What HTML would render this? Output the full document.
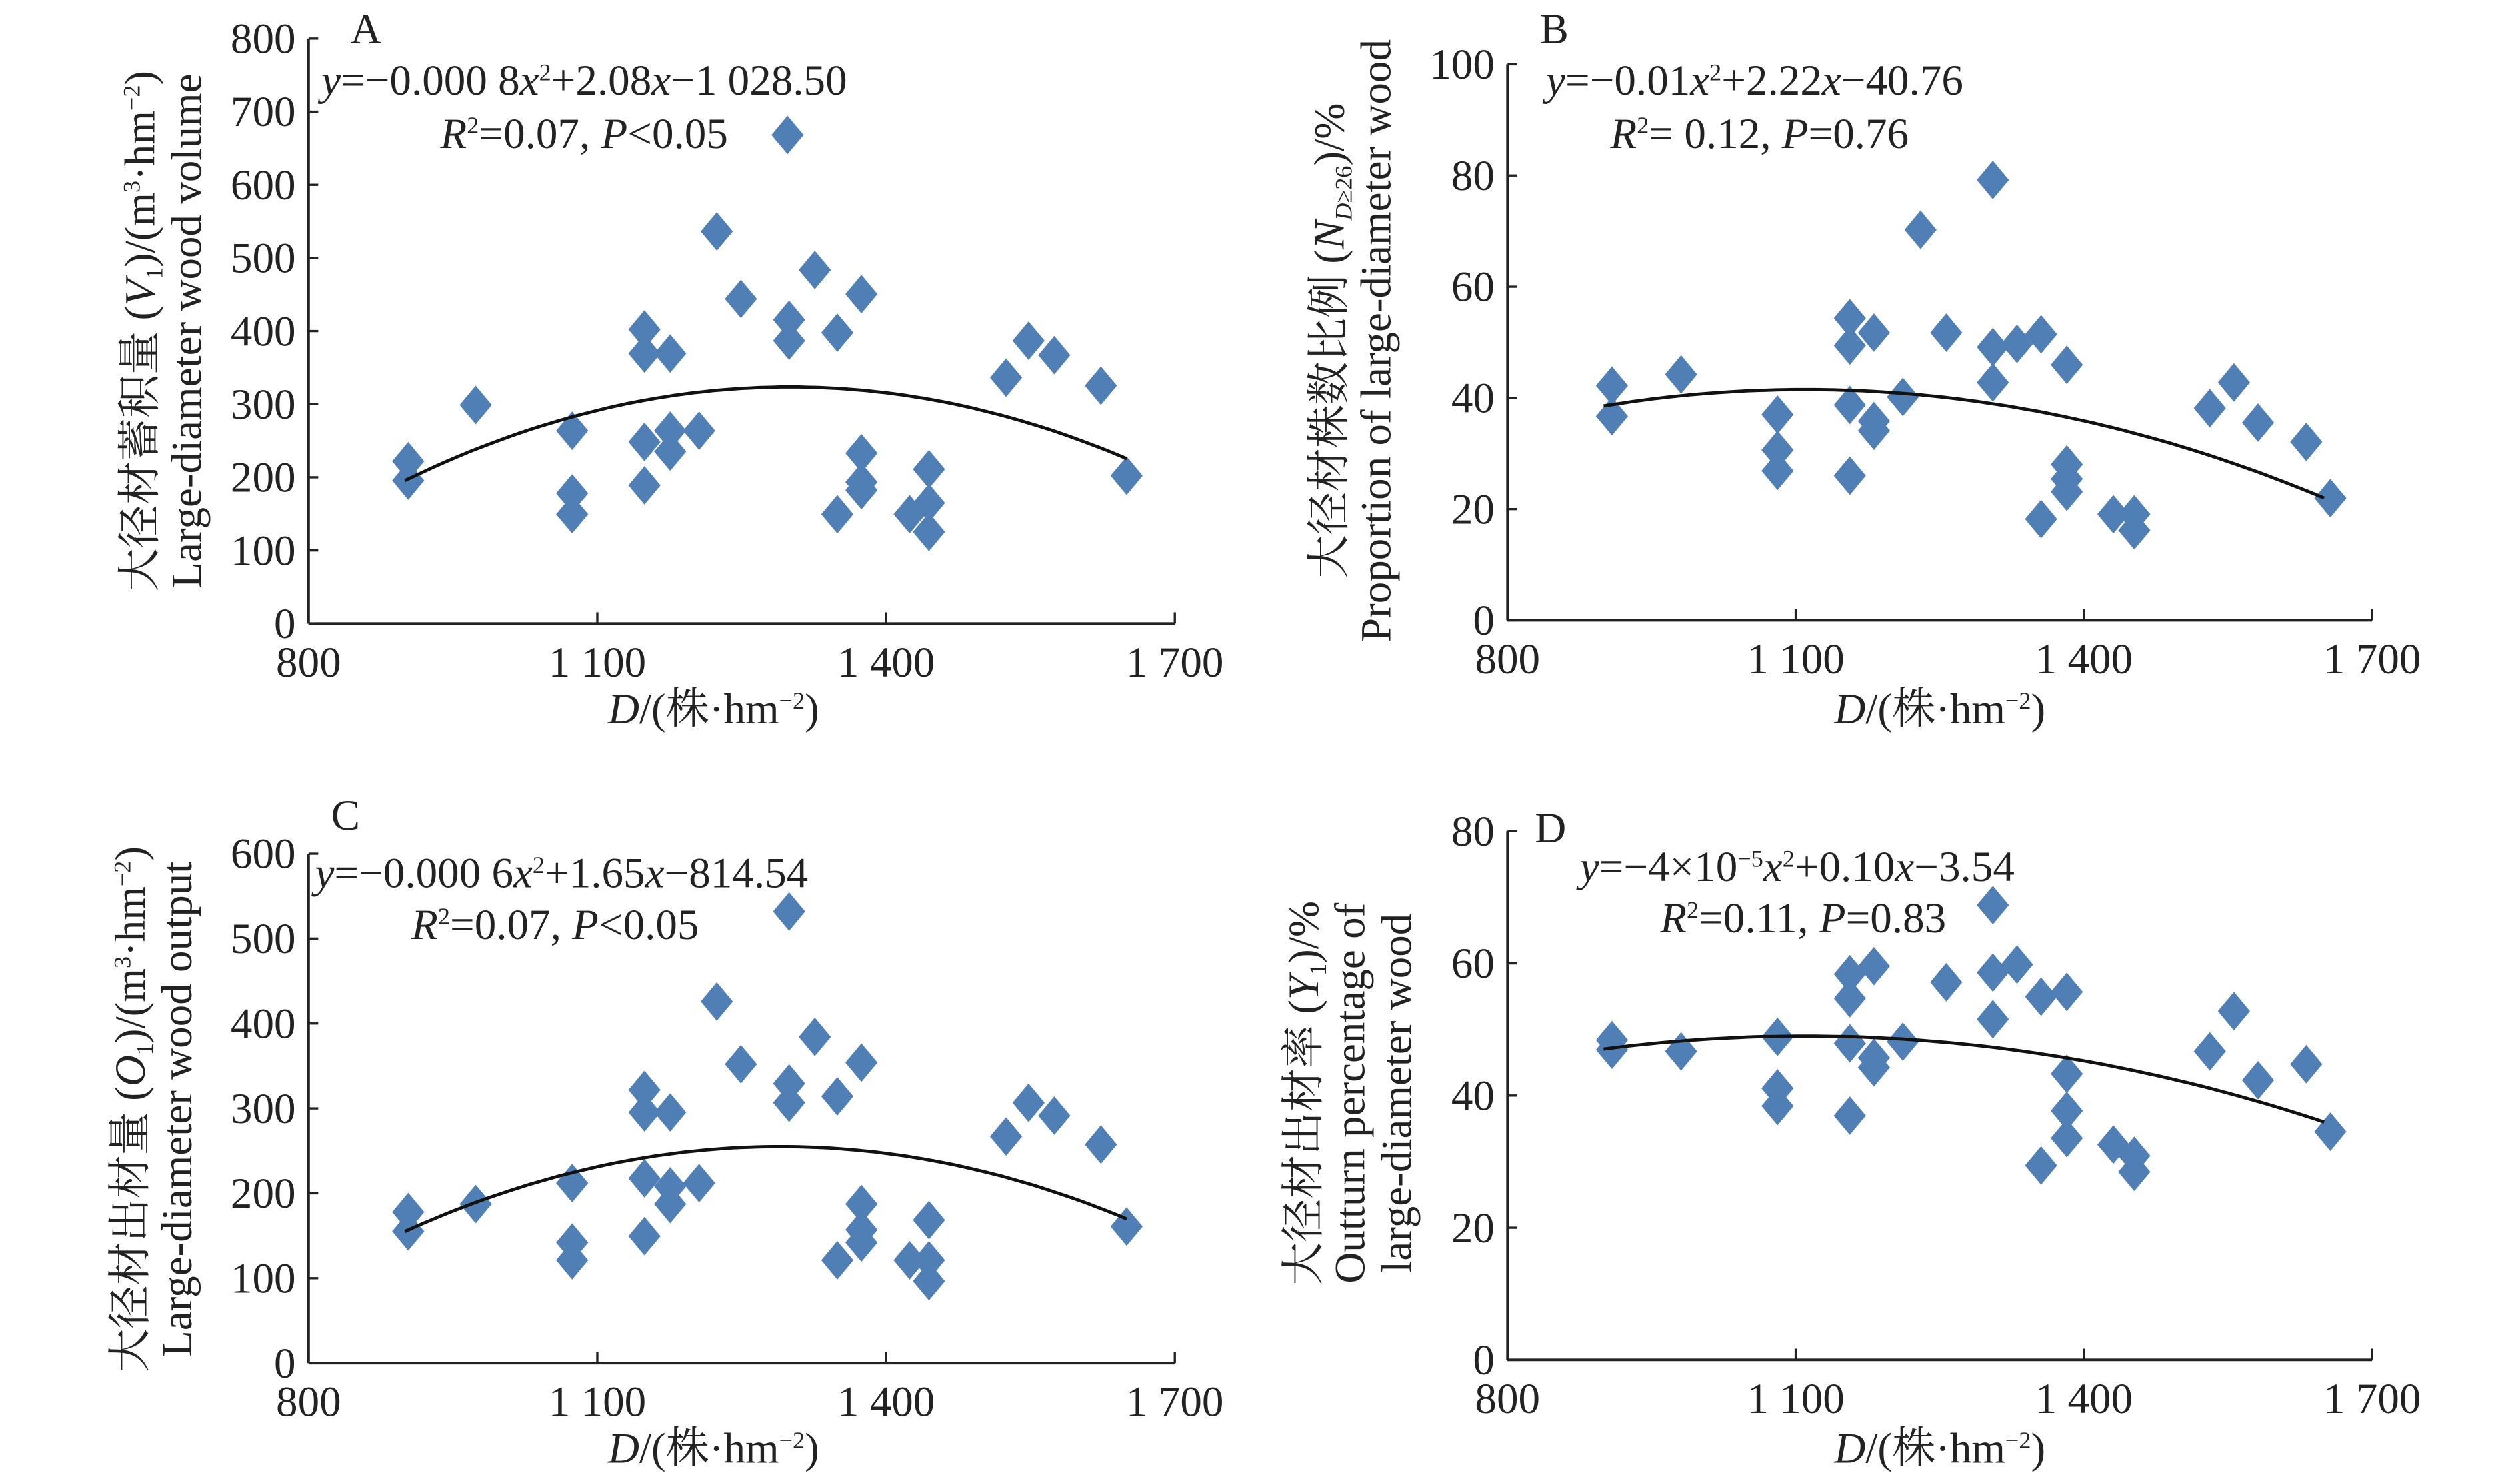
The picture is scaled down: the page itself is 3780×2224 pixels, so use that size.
<!DOCTYPE html>
<html><head><meta charset="utf-8"><style>
html,body{margin:0;padding:0;background:#fff;}
svg{display:block;}
text{font-family:"Liberation Serif","Noto Serif CJK SC","Noto Sans CJK SC",serif;fill:#222;}
</style></head><body>
<svg id="s" width="3780" height="2224" viewBox="0 0 1568 922.6" preserveAspectRatio="none" xmlns="http://www.w3.org/2000/svg">
<g font-size="27">
<!-- Panel A -->
<text x="218" y="27">A</text>
<text x="200" y="59"><tspan font-style="italic">y</tspan>=−0.000 8<tspan font-style="italic">x</tspan><tspan font-size="15" dy="-9">2</tspan><tspan dy="9">+2.08</tspan><tspan font-style="italic">x</tspan>−1 028.50</text>
<text x="274" y="92"><tspan font-style="italic">R</tspan><tspan font-size="15" dy="-9">2</tspan><tspan dy="9">=0.07,  </tspan><tspan font-style="italic">P</tspan>&lt;0.05</text>
<text x="444" y="450" text-anchor="middle"><tspan font-style="italic">D</tspan>/(株·hm<tspan font-size="15" dy="-9">−2</tspan><tspan dy="9">)</tspan></text>
<text transform="translate(96,206) rotate(-90)" text-anchor="middle">大径材蓄积量 (<tspan font-style="italic">V</tspan><tspan font-size="15" dy="5">1</tspan><tspan dy="-5">)/(m</tspan><tspan font-size="15" dy="-9">3</tspan><tspan dy="9">·hm</tspan><tspan font-size="15" dy="-9">−2</tspan><tspan dy="9">)</tspan></text>
<text transform="translate(125,206) rotate(-90)" text-anchor="middle">Large-diameter wood volume</text>
<!-- Panel B -->
<text x="958" y="27">B</text>
<text x="962" y="59"><tspan font-style="italic">y</tspan>=−0.01<tspan font-style="italic">x</tspan><tspan font-size="15" dy="-9">2</tspan><tspan dy="9">+2.22</tspan><tspan font-style="italic">x</tspan>−40.76</text>
<text x="1002" y="92"><tspan font-style="italic">R</tspan><tspan font-size="15" dy="-9">2</tspan><tspan dy="9">= 0.12, </tspan><tspan font-style="italic">P</tspan>=0.76</text>
<text x="1207" y="450" text-anchor="middle"><tspan font-style="italic">D</tspan>/(株·hm<tspan font-size="15" dy="-9">−2</tspan><tspan dy="9">)</tspan></text>
<text transform="translate(836,212) rotate(-90)" text-anchor="middle">大径材株数比例 (<tspan font-style="italic">N</tspan><tspan font-size="15" dy="5" font-style="italic">D</tspan><tspan font-size="15">≥26</tspan><tspan dy="-5">)/%</tspan></text>
<text transform="translate(865,212) rotate(-90)" text-anchor="middle">Proportion of large-diameter wood</text>
<!-- Panel C -->
<text x="206" y="516">C</text>
<text x="196" y="552"><tspan font-style="italic">y</tspan>=−0.000 6<tspan font-style="italic">x</tspan><tspan font-size="15" dy="-9">2</tspan><tspan dy="9">+1.65</tspan><tspan font-style="italic">x</tspan>−814.54</text>
<text x="256" y="584"><tspan font-style="italic">R</tspan><tspan font-size="15" dy="-9">2</tspan><tspan dy="9">=0.07,  </tspan><tspan font-style="italic">P</tspan>&lt;0.05</text>
<text x="444" y="910" text-anchor="middle"><tspan font-style="italic">D</tspan>/(株·hm<tspan font-size="15" dy="-9">−2</tspan><tspan dy="9">)</tspan></text>
<text transform="translate(90,690) rotate(-90)" text-anchor="middle">大径材出材量 (<tspan font-style="italic">O</tspan><tspan font-size="15" dy="5">1</tspan><tspan dy="-5">)/(m</tspan><tspan font-size="15" dy="-9">3</tspan><tspan dy="9">·hm</tspan><tspan font-size="15" dy="-9">−2</tspan><tspan dy="9">)</tspan></text>
<text transform="translate(119,690) rotate(-90)" text-anchor="middle">Large-diameter wood output</text>
<!-- Panel D -->
<text x="955" y="524">D</text>
<text x="983" y="548"><tspan font-style="italic">y</tspan>=−4×10<tspan font-size="15" dy="-9">−5</tspan><tspan font-style="italic" dy="9">x</tspan><tspan font-size="15" dy="-9">2</tspan><tspan dy="9">+0.10</tspan><tspan font-style="italic">x</tspan>−3.54</text>
<text x="1033" y="580"><tspan font-style="italic">R</tspan><tspan font-size="15" dy="-9">2</tspan><tspan dy="9">=0.11, </tspan><tspan font-style="italic">P</tspan>=0.83</text>
<text x="1207" y="910" text-anchor="middle"><tspan font-style="italic">D</tspan>/(株·hm<tspan font-size="15" dy="-9">−2</tspan><tspan dy="9">)</tspan></text>
<text transform="translate(820,680) rotate(-90)" text-anchor="middle">大径材出材率 (<tspan font-style="italic">Y</tspan><tspan font-size="15" dy="5">1</tspan><tspan dy="-5">)/%</tspan></text>
<text transform="translate(849,680) rotate(-90)" text-anchor="middle">Outturn percentage of</text>
<text transform="translate(878,680) rotate(-90)" text-anchor="middle">large-diameter wood</text>
</g>
<g id="dyn"></g>
</svg>
<script>
var NS="http://www.w3.org/2000/svg",g=document.getElementById("dyn");
function el(t,a,txt){var e=document.createElementNS(NS,t);for(var k in a)e.setAttribute(k,a[k]);if(txt!=null)e.textContent=txt;g.appendChild(e);return e;}
function panel(x0,x1,yTop,yBot,ymax,ystep,pts,f){
  el("line",{x1:x0,y1:yTop,x2:x0,y2:yBot,stroke:"#222","stroke-width":1.6});
  el("line",{x1:x0,y1:yBot,x2:x1,y2:yBot,stroke:"#222","stroke-width":1.6});
  for(var v=0;v<=ymax+1e-9;v+=ystep){var y=yBot-(yBot-yTop)*v/ymax;
    el("line",{x1:x0,y1:y,x2:x0+6,y2:y,stroke:"#222","stroke-width":1.4});
    el("text",{x:x0-8,y:y+9,"text-anchor":"end","font-size":27},String(v));}
  var xl=["800","1 100","1 400","1 700"];
  for(var i=0;i<4;i++){var x=x0+(x1-x0)*i/3;
    el("line",{x1:x,y1:yBot,x2:x,y2:yBot-7,stroke:"#222","stroke-width":1.4});
    el("text",{x:x,y:yBot+33,"text-anchor":"middle","font-size":27},xl[i]);}
  pts.forEach(function(p){el("path",{d:"M"+p[0]+","+(p[1]-12)+"l10,12l-10,12l-10,-12z",fill:"#4f7fb5"});});
  var d="";for(var X=900;X<=1650;X+=10){var px=x0+(x1-x0)*(X-800)/900,py=yBot-(yBot-yTop)*f(X)/ymax;d+=(d?"L":"M")+px.toFixed(1)+","+py.toFixed(1);}
  el("path",{d:d,fill:"none",stroke:"#111","stroke-width":2});
}
panel(192,731,24,388,800,100,[[254,287],[254,299],[296,252],[356,268],[356,307],[356,320],[401,205],[401,220],[401,275],[401,302],[417,220],[417,268],[417,281],[435,268],[446,144],[461,186],[491,199],[491,212],[507,168],[521,207],[521,320],[536,183],[536,282],[536,300],[536,305],[566,320],[578,292],[578,313],[578,331],[626,235],[640,212],[656,221],[685,240],[701,296],[490,84]],
 function(x){return -0.0008*x*x+2.08*x-1028.5;});
panel(938,1476,40,386,100,20,[[1003,240],[1003,259],[1046,233],[1106,258],[1106,280],[1106,293],[1151,198],[1151,215],[1151,252],[1151,296],[1166,207],[1166,262],[1166,268],[1184,247],[1195,143],[1211,207],[1240,216],[1240,238],[1240,112],[1255,214],[1270,208],[1270,323],[1286,227],[1286,289],[1286,298],[1286,306],[1315,320],[1328,320],[1328,330],[1375,254],[1390,238],[1405,263],[1435,275],[1450,310]],
 function(x){return 41.5-6.69e-5*(x-1110)*(x-1110);});
panel(192,731,531,848,600,100,[[254,754],[254,766],[296,749],[356,736],[356,773],[356,784],[401,678],[401,692],[401,733],[401,769],[417,692],[417,738],[417,749],[435,736],[446,623],[461,662],[491,674],[491,686],[491,567],[507,645],[521,682],[521,784],[536,661],[536,749],[536,765],[536,773],[566,784],[578,759],[578,784],[578,797],[626,707],[640,686],[656,694],[685,712],[701,763]],
 function(x){return 255-6.57e-4*(x-1290)*(x-1290);});
panel(938,1476,517,846,80,20,[[1003,647],[1003,653],[1046,654],[1106,645],[1106,677],[1106,688],[1151,606],[1151,621],[1151,649],[1151,694],[1166,601],[1166,658],[1166,664],[1184,648],[1211,611],[1240,563],[1240,605],[1240,634],[1255,600],[1270,620],[1270,725],[1286,617],[1286,668],[1286,691],[1286,708],[1315,712],[1328,719],[1328,729],[1375,654],[1390,629],[1405,672],[1435,662],[1450,704]],
 function(x){return 49-4.46e-5*(x-1110)*(x-1110);});
</script>
</body></html>
